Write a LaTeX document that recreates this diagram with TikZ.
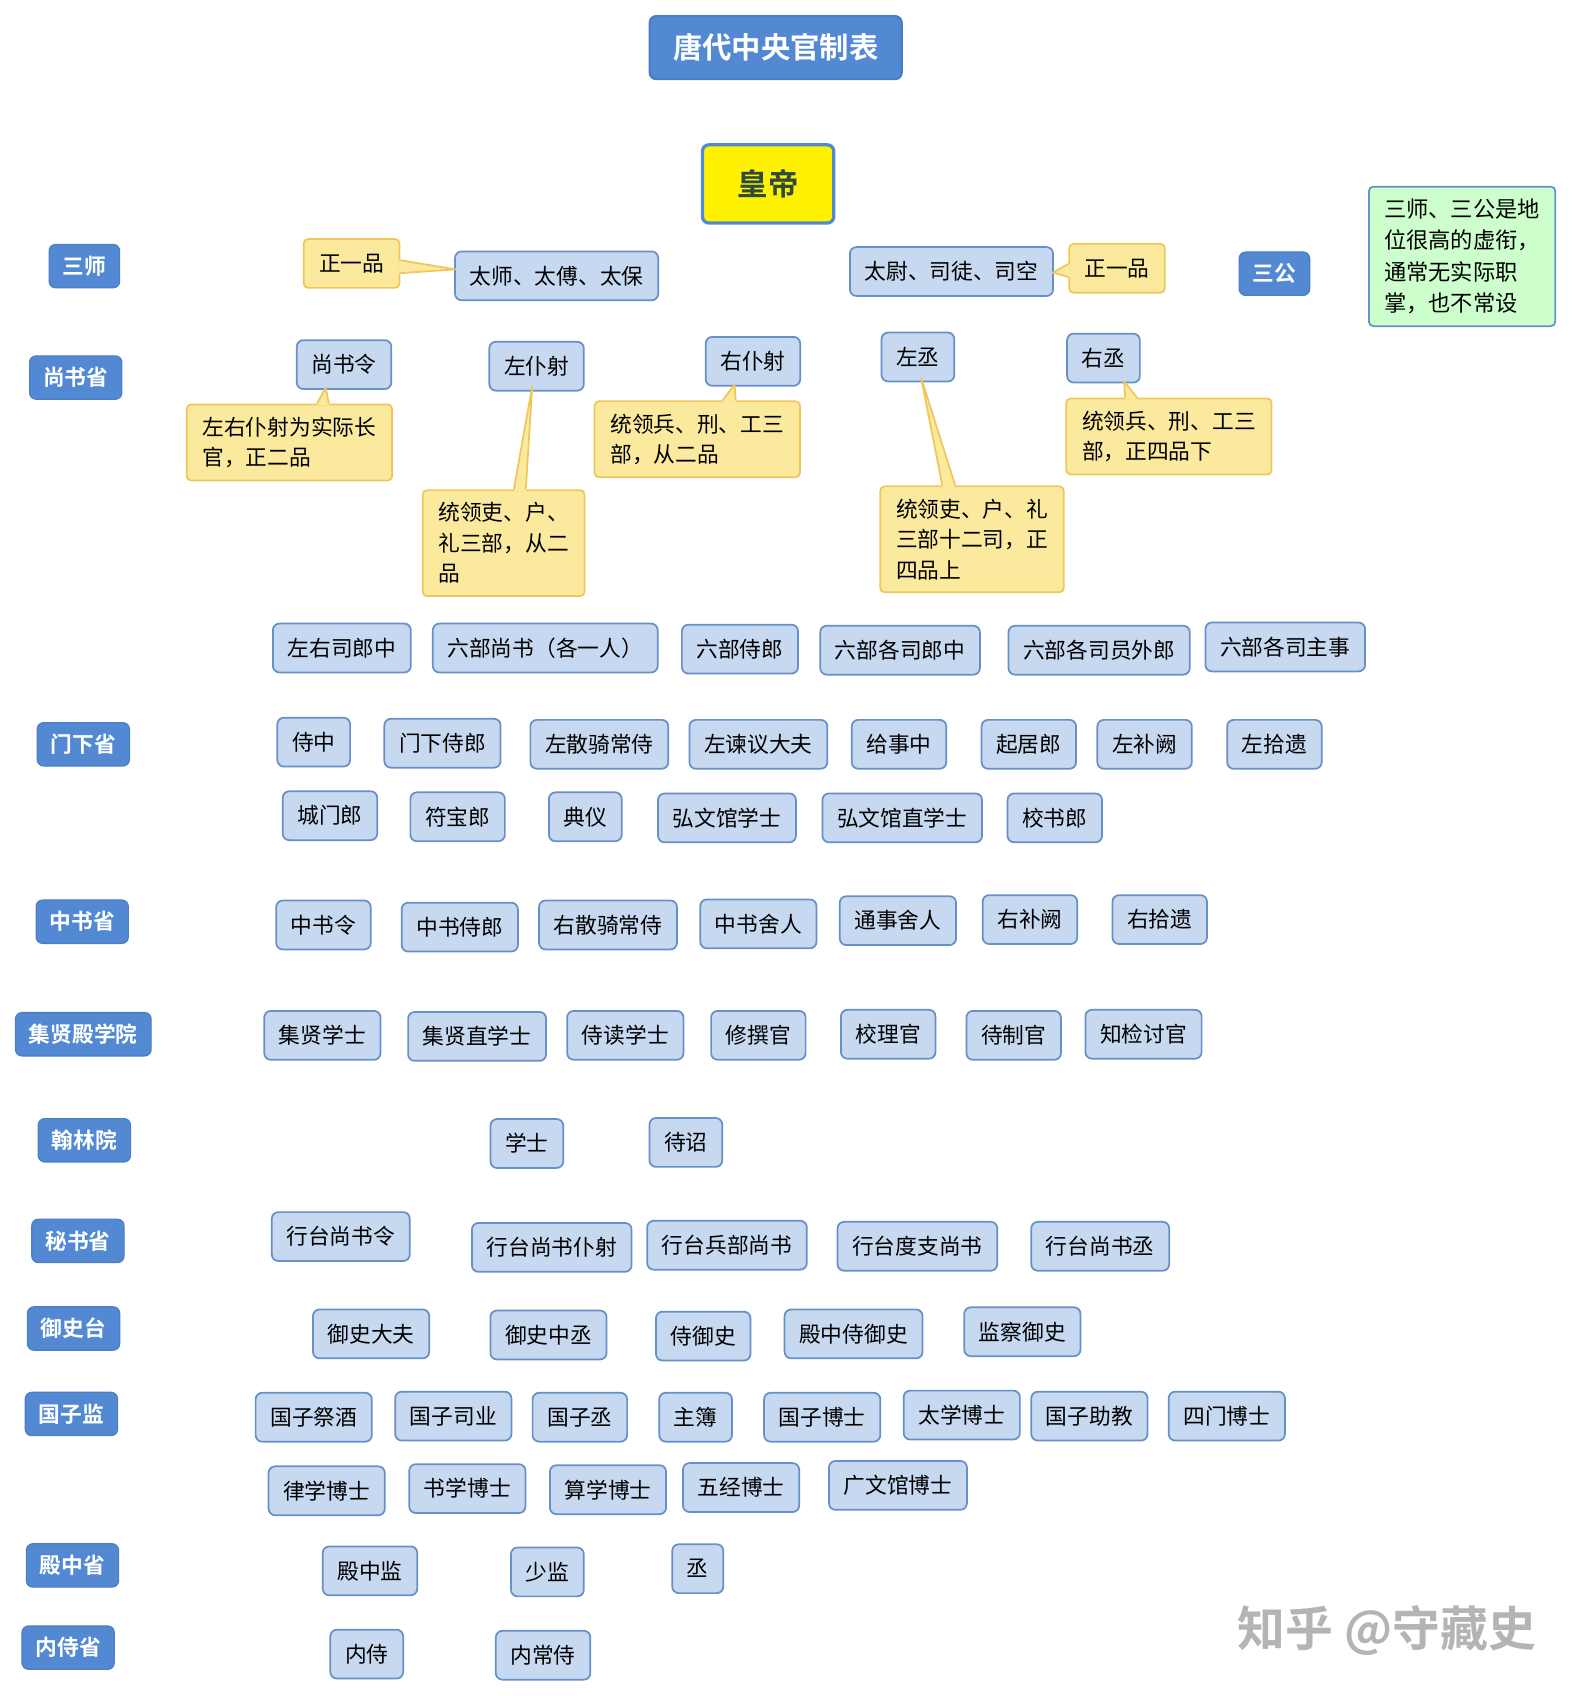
\documentclass[tikz,border=0pt]{standalone}
\usepackage{fontspec}
\setmainfont{Noto Sans CJK SC}[BoldFont={Noto Sans CJK SC Bold}]
\newcommand*{\boxfont}{\fontsize{20}{28}\selectfont}
\newcommand*{\headfont}{\fontsize{27}{32}\selectfont\bfseries}
\definecolor{boxfill}{HTML}{C6D9F1}
\definecolor{boxline}{HTML}{6690C6}
\definecolor{deptfill}{HTML}{5289D2}
\definecolor{deptline}{HTML}{4A7DC2}
\definecolor{notefill}{HTML}{FBEA9E}
\definecolor{noteline}{HTML}{F0C65A}
\definecolor{greenfill}{HTML}{CCFFCC}
\definecolor{rulertext}{HTML}{2E4A3C}
\definecolor{markgrey}{HTML}{B4B4B4}
\usetikzlibrary{calc}
\tikzstyle{office}=[draw=boxline, fill=boxfill, line width=1.6pt, rounded corners=6pt, minimum height=45pt, inner xsep=13.5pt, inner ysep=0pt, font=\boxfont]
\tikzstyle{dept}=[draw=deptline, fill=deptfill, line width=1pt, rounded corners=6pt, minimum height=40pt, inner xsep=12.5pt, inner ysep=0pt, text=white, font=\boxfont\bfseries]
\tikzstyle{remark}=[draw=noteline, fill=notefill, line width=1.6pt, rounded corners=4pt, inner xsep=14.5pt, inner ysep=11.5pt, align=left, font=\boxfont]
\tikzstyle{grade}=[draw=noteline, fill=notefill, line width=1.6pt, rounded corners=4pt, minimum height=45pt, inner xsep=14pt, inner ysep=0pt, font=\boxfont]
\tikzstyle{wedge}=[fill=notefill]
\tikzstyle{wedgeline}=[draw=noteline, line width=1.6pt, line join=round]

\begin{document}
\begin{tikzpicture}[x=0.996pt, y=-0.996pt]
    \path [use as bounding box] (0,0) rectangle (1455.8,1567.7);
    % title and emperor
    \node [draw=deptline, fill=deptfill, line width=2pt, rounded corners=6pt, minimum width=232pt, minimum height=58pt, text=white, font=\headfont] (title) at (717,44) {唐代中央官制表};
    \node [draw=deptfill, fill=yellow, line width=3pt, rounded corners=6pt, minimum width=121pt, minimum height=72pt, text=rulertext, font=\fontsize{28}{32}\selectfont\bfseries] (ruler) at (710,170) {皇帝};
    % departments
    \node [dept] (sanshi) at (78,246) {三师};
    \node [dept] (sangong) at (1178,253) {三公};
    \node [dept] (shangshu) at (70,349) {尚书省};
    \node [dept] (menxia) at (77,688) {门下省};
    \node [dept] (zhongshu) at (76,852) {中书省};
    \node [dept] (jixian) at (77,956) {集贤殿学院};
    \node [dept] (hanlin) at (78,1054) {翰林院};
    \node [dept] (mishu) at (72,1147) {秘书省};
    \node [dept] (yushi) at (68,1228) {御史台};
    \node [dept] (guozi) at (66,1307) {国子监};
    \node [dept] (dianzhong) at (67,1447) {殿中省};
    \node [dept] (neishi) at (63,1523) {内侍省};
    \node [draw=boxline, fill=greenfill, line width=1.6pt, rounded corners=4pt, inner xsep=14pt, inner ysep=11pt, align=left, font=\fontsize{20.5}{29}\selectfont] (gloss) at (1351.5,237) {三师、三公是地\\位很高的虚衔，\\通常无实际职\\掌，也不常设};
    % three dukes
    \node [grade] (rank1) at (325,243.5) {正一品};
    \node [office] (taishi) at (514.5,255) {太师、太傅、太保};
    \node [office] (taiwei) at (879.5,251) {太尉、司徒、司空};
    \node [grade] (rank2) at (1032.5,248) {正一品};
    % shangshu heads
    \node [office] (sling) at (318,337) {尚书令};
    \node [office] (zpushe) at (496,338.5) {左仆射};
    \node [office] (ypushe) at (696,334) {右仆射};
    \node [office] (zcheng) at (848.5,330) {左丞};
    \node [office] (ycheng) at (1020,331) {右丞};
    \node [remark] (note1) at (267.5,409) {左右仆射为实际长\\官，正二品};
    \node [remark] (note2) at (465.5,502) {统领吏、户、\\礼三部，从二\\品};
    \node [remark] (note3) at (644.5,406) {统领兵、刑、工三\\部，从二品};
    \node [remark] (note4) at (898.5,498.5) {统领吏、户、礼\\三部十二司，正\\四品上};
    \node [remark] (note5) at (1080.5,403.5) {统领兵、刑、工三\\部，正四品下};
    % callouts
    \fill [wedge] ($(rank1.east)+(-1.5,-3)$) -- ($(taishi.west)+(1,-6)$) -- ($(rank1.east)+(-1.5,9)$) -- cycle;
    \draw [wedgeline] ($(rank1.east)+(0,-3)$) -- ($(taishi.west)+(1,-6)$) -- ($(rank1.east)+(0,9)$);
    \fill [wedge] ($(rank2.west)+(1.5,-4)$) -- ($(taiwei.east)+(-1,1)$) -- ($(rank2.west)+(1.5,8)$) -- cycle;
    \draw [wedgeline] ($(rank2.west)+(0,-4)$) -- ($(taiwei.east)+(-1,1)$) -- ($(rank2.west)+(0,8)$);
    \fill [wedge] ($(note1.north)+(25.5,1.5)$) -- ($(sling.south)+(-17,-2)$) -- ($(note1.north)+(36.5,1.5)$) -- cycle;
    \draw [wedgeline] ($(note1.north)+(25.5,0)$) -- ($(sling.south)+(-17,-2)$) -- ($(note1.north)+(36.5,0)$);
    \fill [wedge] ($(note2.north)+(9.5,1.5)$) -- ($(zpushe.south)+(-4,-5)$) -- ($(note2.north)+(20.5,1.5)$) -- cycle;
    \draw [wedgeline] ($(note2.north)+(9.5,0)$) -- ($(zpushe.south)+(-4,-5)$) -- ($(note2.north)+(20.5,0)$);
    \fill [wedge] ($(note3.north)+(23.5,1.5)$) -- ($(ypushe.south)+(-17,-2)$) -- ($(note3.north)+(35.5,1.5)$) -- cycle;
    \draw [wedgeline] ($(note3.north)+(23.5,0)$) -- ($(ypushe.south)+(-17,-2)$) -- ($(note3.north)+(35.5,0)$);
    \fill [wedge] ($(note4.north)+(-27.5,1.5)$) -- ($(zcheng.south)+(3,-4)$) -- ($(note4.north)+(-15.5,1.5)$) -- cycle;
    \draw [wedgeline] ($(note4.north)+(-27.5,0)$) -- ($(zcheng.south)+(3,-4)$) -- ($(note4.north)+(-15.5,0)$);
    \fill [wedge] ($(note5.north)+(-40.5,1.5)$) -- ($(ycheng.south)+(19,-2)$) -- ($(note5.north)+(-29.5,1.5)$) -- cycle;
    \draw [wedgeline] ($(note5.north)+(-40.5,0)$) -- ($(ycheng.south)+(19,-2)$) -- ($(note5.north)+(-29.5,0)$);
    % six ministries
    \node [office] (lb1) at (316,599) {左右司郎中};
    \node [office] (lb2) at (504,599) {六部尚书（各一人）};
    \node [office] (lb3) at (684,600) {六部侍郎};
    \node [office] (lb4) at (832,601) {六部各司郎中};
    \node [office] (lb5) at (1016,601) {六部各司员外郎};
    \node [office] (lb6) at (1188,598) {六部各司主事};
    % menxia
    \node [office] (mx1) at (290,686) {侍中};
    \node [office] (mx2) at (409,687) {门下侍郎};
    \node [office] (mx3) at (554,688) {左散骑常侍};
    \node [office] (mx4) at (701,688) {左谏议大夫};
    \node [office] (mx5) at (831,688) {给事中};
    \node [office] (mx6) at (951,688) {起居郎};
    \node [office] (mx7) at (1058,688) {左补阙};
    \node [office] (mx8) at (1178,688) {左拾遗};
    \node [office] (mx9) at (305,754) {城门郎};
    \node [office] (mx10) at (423,755) {符宝郎};
    \node [office] (mx11) at (541,755) {典仪};
    \node [office] (mx12) at (672,756) {弘文馆学士};
    \node [office] (mx13) at (834,756) {弘文馆直学士};
    \node [office] (mx14) at (975,756) {校书郎};
    % zhongshu
    \node [office] (zs1) at (299,855) {中书令};
    \node [office] (zs2) at (425,857) {中书侍郎};
    \node [office] (zs3) at (562,855) {右散骑常侍};
    \node [office] (zs4) at (701,854) {中书舍人};
    \node [office] (zs5) at (830,851) {通事舍人};
    \node [office] (zs6) at (952,850) {右补阙};
    \node [office] (zs7) at (1072,850) {右拾遗};
    % jixian
    \node [office] (jx1) at (298,957) {集贤学士};
    \node [office] (jx2) at (441,958) {集贤直学士};
    \node [office] (jx3) at (578,957) {侍读学士};
    \node [office] (jx4) at (701,957) {修撰官};
    \node [office] (jx5) at (821,956) {校理官};
    \node [office] (jx6) at (937,957) {待制官};
    \node [office] (jx7) at (1057,956) {知检讨官};
    % hanlin
    \node [office] (hl1) at (487,1057) {学士};
    \node [office] (hl2) at (634,1056) {待诏};
    % mishu
    \node [office] (ms1) at (315,1143) {行台尚书令};
    \node [office] (ms2) at (510,1153) {行台尚书仆射};
    \node [office] (ms3) at (672,1151) {行台兵部尚书};
    \node [office] (ms4) at (848,1152) {行台度支尚书};
    \node [office] (ms5) at (1017,1152) {行台尚书丞};
    % yushi
    \node [office] (ys1) at (343,1233) {御史大夫};
    \node [office] (ys2) at (507,1234) {御史中丞};
    \node [office] (ys3) at (650,1235) {侍御史};
    \node [office] (ys4) at (789,1233) {殿中侍御史};
    \node [office] (ys5) at (945,1231) {监察御史};
    % guozi
    \node [office] (gz1) at (290,1310) {国子祭酒};
    \node [office] (gz2) at (419,1309) {国子司业};
    \node [office] (gz3) at (536,1310) {国子丞};
    \node [office] (gz4) at (643,1310) {主簿};
    \node [office] (gz5) at (760,1310) {国子博士};
    \node [office] (gz6) at (889,1308) {太学博士};
    \node [office] (gz7) at (1007,1309) {国子助教};
    \node [office] (gz8) at (1134,1309) {四门博士};
    \node [office] (gz9) at (302,1378) {律学博士};
    \node [office] (gz10) at (432,1376) {书学博士};
    \node [office] (gz11) at (562,1377) {算学博士};
    \node [office] (gz12) at (685,1375) {五经博士};
    \node [office] (gz13) at (830,1373) {广文馆博士};
    % dianzhong, neishi
    \node [office] (dz1) at (342,1452) {殿中监};
    \node [office] (dz2) at (506,1453) {少监};
    \node [office] (dz3) at (645,1450) {丞};
    \node [office] (ns1) at (339,1529) {内侍};
    \node [office] (ns2) at (502,1530) {内常侍};
    % watermark
    \node [text=markgrey, font=\fontsize{44}{48}\selectfont\bfseries] (mark) at (1282,1507) {知乎 @守藏史};
\end{tikzpicture}
\end{document}
